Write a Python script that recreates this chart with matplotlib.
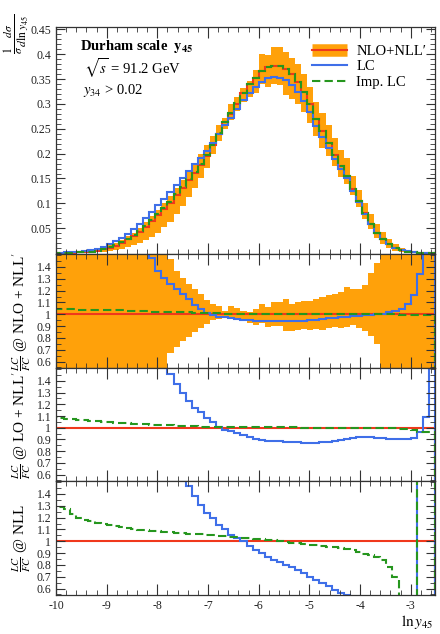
import matplotlib
matplotlib.use('Agg')
import matplotlib.pyplot as plt
import numpy as np
from matplotlib.lines import Line2D
from matplotlib.ticker import MultipleLocator, FixedLocator, FuncFormatter

plt.rcParams['font.family'] = ['Liberation Serif', 'DejaVu Serif']
plt.rcParams['mathtext.fontset'] = 'stix'
plt.rcParams['axes.unicode_minus'] = False

# ln(y45) bins, width 0.12, from -10.08 to -2.52
edges = np.round(np.arange(-84, -20) * 0.12, 2)

# 1/sigma dsigma/dln y45
nlo_nll = np.array([
    0.0002, 0.0003, 0.0005, 0.0008, 0.0013, 0.002, 0.003, 0.005, 0.008, 0.011,
    0.015, 0.021, 0.028, 0.035, 0.043, 0.053, 0.065, 0.076, 0.088, 0.101,
    0.116, 0.131, 0.146, 0.162, 0.178, 0.195, 0.217, 0.240, 0.263, 0.280,
    0.300, 0.323, 0.340, 0.353, 0.367, 0.375, 0.377, 0.376, 0.370, 0.360,
    0.345, 0.325, 0.300, 0.270, 0.245, 0.222, 0.198, 0.175, 0.155, 0.128,
    0.105, 0.080, 0.058, 0.041, 0.028, 0.018, 0.011, 0.006, 0.003, 0.0015,
    0.0008, 0.0004, 0.0002])
lc = np.array([
    0.0004, 0.0008, 0.0012, 0.0018, 0.0027, 0.004, 0.006, 0.009, 0.013, 0.018,
    0.024, 0.031, 0.039, 0.048, 0.058, 0.070, 0.083, 0.096, 0.109, 0.123,
    0.137, 0.151, 0.165, 0.179, 0.192, 0.205, 0.222, 0.240, 0.258, 0.272,
    0.289, 0.309, 0.323, 0.335, 0.345, 0.352, 0.354, 0.353, 0.348, 0.339,
    0.325, 0.306, 0.283, 0.256, 0.233, 0.212, 0.190, 0.169, 0.150, 0.125,
    0.103, 0.079, 0.058, 0.041, 0.028, 0.018, 0.011, 0.0065, 0.0035, 0.002,
    0.001, 0.0006, 0.0003])
imp_lc = np.array([
    0.0002, 0.0003, 0.0005, 0.0009, 0.0014, 0.002, 0.003, 0.005, 0.008, 0.012,
    0.016, 0.022, 0.029, 0.036, 0.044, 0.055, 0.067, 0.078, 0.090, 0.103,
    0.118, 0.133, 0.148, 0.164, 0.180, 0.197, 0.218, 0.241, 0.264, 0.281,
    0.301, 0.323, 0.340, 0.353, 0.367, 0.375, 0.377, 0.376, 0.370, 0.360,
    0.345, 0.325, 0.300, 0.270, 0.245, 0.222, 0.198, 0.175, 0.155, 0.128,
    0.105, 0.080, 0.058, 0.041, 0.028, 0.018, 0.011, 0.006, 0.003, 0.0015,
    0.0008, 0.0004, 0.0002])

# NLO+NLL' uncertainty envelope in the main panel
band_top_hi = np.array([
    0.001, 0.0015, 0.002, 0.003, 0.004, 0.005, 0.007, 0.009, 0.012, 0.016,
    0.021, 0.027, 0.034, 0.041, 0.050, 0.062, 0.074, 0.086, 0.100, 0.114,
    0.130, 0.146, 0.163, 0.181, 0.200, 0.218, 0.236, 0.257, 0.271, 0.300,
    0.315, 0.333, 0.347, 0.369, 0.400, 0.398, 0.415, 0.414, 0.405, 0.392,
    0.380, 0.361, 0.335, 0.305, 0.281, 0.258, 0.232, 0.208, 0.191, 0.155,
    0.127, 0.100, 0.078, 0.058, 0.042, 0.028, 0.018, 0.010, 0.006, 0.003,
    0.002, 0.001, 0.0005])
band_top_lo = np.array([
    0.0, 0.0, 0.0, 0.0001, 0.0002, 0.0005, 0.001, 0.002, 0.003, 0.004,
    0.006, 0.009, 0.013, 0.017, 0.021, 0.026, 0.033, 0.041, 0.052, 0.063,
    0.078, 0.095, 0.112, 0.130, 0.150, 0.172, 0.200, 0.225, 0.250, 0.268,
    0.285, 0.305, 0.315, 0.322, 0.340, 0.335, 0.340, 0.338, 0.318, 0.310,
    0.300, 0.284, 0.261, 0.236, 0.212, 0.195, 0.176, 0.154, 0.139, 0.116,
    0.092, 0.069, 0.048, 0.031, 0.018, 0.010, 0.005, 0.002, 0.001, 0.0,
    0.0, 0.0, 0.0])

# NLO+NLL' uncertainty band, relative to central value (ratio panel)
band_hi = np.array([
    1.9, 1.9, 1.9, 1.9, 1.9, 1.9, 1.9, 1.9, 1.9, 1.9,
    1.9, 1.75, 1.75, 1.75, 1.75, 1.62, 1.62, 1.62, 1.53, 1.47,
    1.37, 1.31, 1.26, 1.21, 1.17, 1.12, 1.09, 1.07, 1.03, 1.07,
    1.05, 1.03, 1.02, 1.045, 1.09, 1.06, 1.10, 1.10, 1.13, 1.09,
    1.10, 1.11, 1.115, 1.13, 1.145, 1.16, 1.17, 1.19, 1.23, 1.21,
    1.21, 1.25, 1.35, 1.43, 1.8, 1.8, 1.8, 1.8, 1.8, 1.8,
    1.8, 1.8, 1.8])
band_lo = np.array([
    0.3, 0.3, 0.3, 0.3, 0.3, 0.3, 0.3, 0.3, 0.3, 0.3,
    0.3, 0.4, 0.4, 0.4, 0.4, 0.48, 0.48, 0.48, 0.53, 0.67,
    0.72, 0.77, 0.81, 0.85, 0.88, 0.92, 0.95, 0.96, 0.98, 0.975,
    0.96, 0.95, 0.93, 0.91, 0.93, 0.89, 0.90, 0.90, 0.86, 0.86,
    0.87, 0.875, 0.87, 0.875, 0.865, 0.88, 0.89, 0.88, 0.895, 0.91,
    0.88, 0.86, 0.82, 0.75, 0.3, 0.3, 0.3, 0.3, 0.3, 0.3,
    0.3, 0.3, 0.3])

# LC / FC @ NLO+NLL'
lc_r_nlo = np.array([
    3.0, 3.0, 3.0, 3.0, 3.0, 3.0, 3.0, 3.0, 3.0, 3.0,
    3.0, 3.0, 3.0, 3.0, 3.0, 3.0, 1.48, 1.37, 1.31, 1.26,
    1.21, 1.17, 1.13, 1.08, 1.045, 1.01, 0.99, 0.98, 0.975, 0.965,
    0.96, 0.955, 0.95, 0.947, 0.944, 0.942, 0.94, 0.94, 0.94, 0.942,
    0.944, 0.946, 0.95, 0.955, 0.96, 0.965, 0.97, 0.975, 0.98, 0.983,
    0.988, 0.992, 0.996, 1.0, 1.005, 1.015, 1.03, 1.045, 1.09, 1.16,
    1.34, 3.0, 3.0])
imp_r_nlo = np.array([
    1.045, 1.045, 1.045, 1.044, 1.04, 1.04, 1.04, 1.039, 1.035, 1.035,
    1.035, 1.034, 1.03, 1.03, 1.03, 1.028, 1.02, 1.02, 1.02, 1.018,
    1.015, 1.015, 1.015, 1.012, 1.01, 1.01, 1.01, 1.008, 1.005, 1.005,
    1.005, 1.005, 1.005, 1.004, 1.0, 1.0, 1.0, 1.0, 1.0, 1.0,
    1.0, 1.0, 1.0, 1.0, 1.0, 1.0, 1.0, 1.0, 1.0, 1.0,
    1.0, 1.0, 1.0, 0.998, 0.998, 0.998, 0.998, 0.997, 0.995, 0.995,
    0.994, 0.99, 0.99])

# LC / FC @ LO+NLL'
lc_r_lo = np.array([
    3.0, 3.0, 3.0, 3.0, 3.0, 3.0, 3.0, 3.0, 3.0, 3.0,
    3.0, 3.0, 3.0, 3.0, 3.0, 3.0, 3.0, 3.0, 3.0, 1.46,
    1.37, 1.30, 1.23, 1.17, 1.13, 1.08, 1.05, 1.01, 0.98, 0.97,
    0.955, 0.935, 0.92, 0.905, 0.895, 0.89, 0.887, 0.885, 0.88, 0.878,
    0.875, 0.873, 0.872, 0.873, 0.876, 0.88, 0.887, 0.895, 0.905, 0.912,
    0.92, 0.925, 0.922, 0.916, 0.912, 0.907, 0.903, 0.90, 0.90, 0.91,
    0.96, 1.09, 3.0])
imp_r_lo = np.array([
    1.09, 1.085, 1.078, 1.072, 1.066, 1.062, 1.058, 1.054, 1.05, 1.046,
    1.043, 1.04, 1.037, 1.034, 1.031, 1.028, 1.026, 1.024, 1.022, 1.02,
    1.018, 1.016, 1.014, 1.012, 1.01, 1.009, 1.008, 1.007, 1.006, 1.005,
    1.005, 1.004, 1.004, 1.004, 1.003, 1.003, 1.003, 1.003, 1.002, 1.002,
    1.002, 1.001, 1.001, 1.001, 1.0, 1.0, 1.0, 1.0, 1.0, 1.0,
    1.0, 1.0, 1.0, 0.998, 0.997, 0.997, 0.996, 0.993, 0.985, 0.98,
    0.965, 0.96, 0.965])

# LC / FC @ NLL
lc_r_nll = np.array([
    3.0, 3.0, 3.0, 3.0, 3.0, 3.0, 3.0, 3.0, 3.0, 3.0,
    3.0, 3.0, 3.0, 3.0, 3.0, 3.0, 3.0, 3.0, 3.0, 3.0,
    3.0, 3.0, 1.465, 1.38, 1.31, 1.24, 1.20, 1.14, 1.10, 1.056,
    1.03, 1.0, 0.96, 0.93, 0.90, 0.87, 0.845, 0.825, 0.80, 0.78,
    0.76, 0.73, 0.70, 0.675, 0.65, 0.62, 0.59, 0.565, 0.547, 0.0,
    0.0, 0.0, 0.0, 0.0, 0.0, 0.0, 0.0, 0.0, 0.0, 0.0,
    3.0, 3.0, 3.0])
imp_r_nll = np.array([
    1.30, 1.29, 1.27, 1.23, 1.20, 1.18, 1.17, 1.155, 1.145, 1.14,
    1.125, 1.12, 1.11, 1.10, 1.097, 1.093, 1.09, 1.085, 1.08, 1.075,
    1.07, 1.068, 1.065, 1.06, 1.058, 1.055, 1.05, 1.045, 1.042, 1.04,
    1.035, 1.03, 1.027, 1.022, 1.018, 1.012, 1.007, 1.0, 0.995, 0.988,
    0.983, 0.977, 0.972, 0.967, 0.962, 0.955, 0.948, 0.943, 0.937, 0.925,
    0.91, 0.895, 0.885, 0.87, 0.84, 0.78, 0.70, 0.0, 0.0, 0.0,
    3.0, 3.0, 3.0])

c_band = '#ffa10a'
c_red = '#f0381c'
c_blue = '#3f6fe8'
c_green = '#26961e'
lw = 1.5

fig = plt.figure(figsize=(4.4, 6.34), dpi=100)
L, W = 56 / 440, 379 / 440


def fy(px):
    return 1 - px / 634


ax0 = fig.add_axes([L, fy(254), W, 227 / 634])
ax1 = fig.add_axes([L, fy(368), W, 114 / 634])
ax2 = fig.add_axes([L, fy(481), W, 113 / 634])
ax3 = fig.add_axes([L, fy(595), W, 114 / 634])
fmt = FuncFormatter(lambda v, p: '%g' % v)

for ax in (ax0, ax1, ax2, ax3):
    ax.set_xlim(-10, -2.52)
    ax.xaxis.set_major_locator(MultipleLocator(1))
    ax.xaxis.set_minor_locator(MultipleLocator(0.2))
    ax.tick_params(which='both', direction='in', top=True, right=True,
                   labelsize=8.5, color='#333333', labelcolor='#222222')
    ax.tick_params(which='major', length=6.5, width=0.8)
    ax.tick_params(which='minor', length=3.5, width=0.6)
    ax.tick_params(axis='x', which='major', length=8)
    for s in ax.spines.values():
        s.set_linewidth(0.9)
        s.set_color('#333333')
    if ax is not ax3:
        ax.tick_params(labelbottom=False)

# main panel
ax0.stairs(band_top_hi, edges, baseline=band_top_lo, fill=True, color=c_band, lw=0)
ax0.stairs(nlo_nll, edges, color=c_red, lw=lw)
ax0.stairs(lc, edges, color=c_blue, lw=lw)
ax0.stairs(imp_lc, edges, color=c_green, lw=lw, linestyle=(0, (4, 2)))
ax0.set_ylim(-0.002, 0.455)
ax0.yaxis.set_major_locator(FixedLocator([0.05, 0.1, 0.15, 0.2, 0.25, 0.3, 0.35, 0.4, 0.45]))
ax0.yaxis.set_minor_locator(MultipleLocator(0.01))
ax0.yaxis.set_major_formatter(fmt)

ax0.text(0.063, 0.916, r'Durham scale  $\mathbf{y_{45}}$', transform=ax0.transAxes,
         fontsize=10.5, fontweight='bold', va='center')
ax0.text(0.074, 0.819, r'$\sqrt{s}$ = 91.2 GeV', transform=ax0.transAxes,
         fontsize=10.5, va='center')
ax0.text(0.071, 0.722, r'$y_{34}$ > 0.02', transform=ax0.transAxes,
         fontsize=10.5, va='center')

h_nlo = (Line2D([], [], color=c_band, lw=9, solid_capstyle='butt'),
         Line2D([], [], color=c_red, lw=lw))
h_lc = Line2D([], [], color=c_blue, lw=lw)
h_imp = Line2D([], [], color=c_green, lw=lw, linestyle=(0, (4, 2)))
ax0.legend([h_nlo, h_lc, h_imp], ['NLO+NLL\u2032', 'LC', 'Imp. LC'],
           loc='upper right', bbox_to_anchor=(1.0, 0.96), frameon=False,
           fontsize=10.5, handlelength=2.4, handletextpad=0.6,
           labelspacing=0.15, borderaxespad=0.2)

# ratio panels
ratio_panels = [
    (ax1, lc_r_nlo, imp_r_nlo, r"$\frac{LC}{FC}$ @ NLO + NLL$'$"),
    (ax2, lc_r_lo, imp_r_lo, r"$\frac{LC}{FC}$ @ LO + NLL$'$"),
    (ax3, lc_r_nll, imp_r_nll, r"$\frac{LC}{FC}$ @ NLL"),
]
for ax, r_lc, r_imp, lab in ratio_panels:
    if ax is ax1:
        ax.stairs(band_hi, edges, baseline=band_lo, fill=True, color=c_band, lw=0)
    ax.stairs(nlo_nll / nlo_nll, edges, color=c_red, lw=lw)
    ax.stairs(r_lc, edges, color=c_blue, lw=lw)
    ax.stairs(r_imp, edges, color=c_green, lw=lw, linestyle=(0, (4, 2)))
    ax.set_ylim(0.545, 1.51)
    ax.yaxis.set_major_locator(FixedLocator([0.6, 0.7, 0.8, 0.9, 1.0, 1.1, 1.2, 1.3, 1.4]))
    ax.yaxis.set_minor_locator(MultipleLocator(0.05))
    ax.yaxis.set_major_formatter(fmt)
    pos = ax.get_position()
    fig.text(22 / 440, pos.y0 + pos.height / 2, lab, rotation=90,
             ha='center', va='center', fontsize=11)

fig.text(16 / 440, fy(14), r'$\frac{1}{\sigma}\frac{d\sigma}{d\ln y_{45}}$',
         rotation=90, ha='center', va='top', fontsize=12)
fig.text(433 / 440, fy(622), r'$\ln y_{45}$', ha='right', va='center', fontsize=11)

fig.savefig('out.png', dpi=100)
